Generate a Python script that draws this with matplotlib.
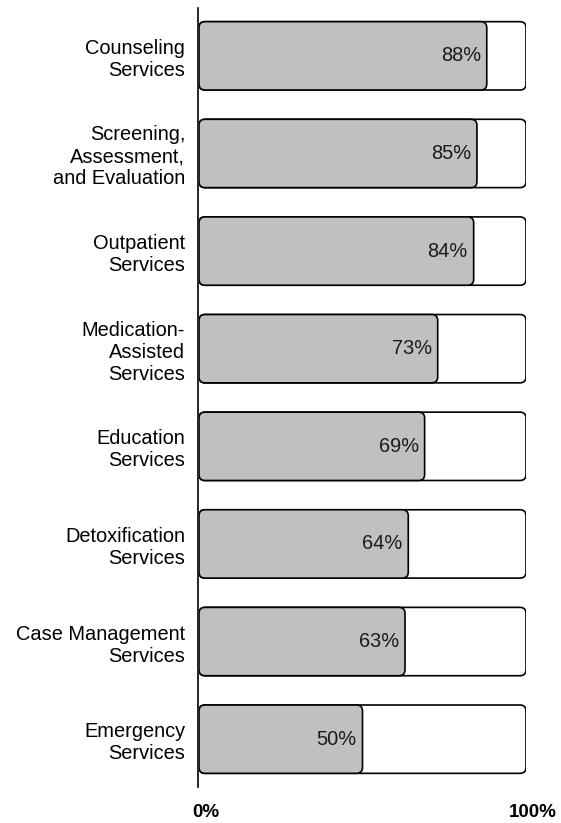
import matplotlib.pyplot as plt
from matplotlib.patches import FancyBboxPatch
from matplotlib.transforms import ScaledTranslation

plt.rcParams['font.family'] = ['Liberation Sans', 'DejaVu Sans']

categories = ["Counseling\nServices",
              "Screening,\nAssessment,\nand Evaluation",
              "Outpatient\nServices",
              "Medication-\nAssisted\nServices",
              "Education\nServices",
              "Detoxification\nServices",
              "Case Management\nServices",
              "Emergency\nServices"]
values = [88, 85, 84, 73, 69, 64, 63, 50]
full = 100

W, H = 561, 823
fig = plt.figure(figsize=(W / 100, H / 100), dpi=100)
ax = fig.add_axes([199 / W, 1 - 787 / H, (526 - 199) / W, (787 - 8) / H])
ax.set_xlim(0, full)
ax.set_ylim(len(categories) - 0.51, -0.49)

# pixels per data unit, for round corners that look circular
px_x = (526 - 199) / full
px_y = (787 - 8) / (len(categories) - 0.51 + 0.49)
rad_px = 6
r = rad_px / px_x
aspect = (rad_px / px_y) / r

bar_h = 0.70
for i, (cat, v) in enumerate(zip(categories, values)):
    y0 = i - bar_h / 2
    bg = FancyBboxPatch((0, y0), full, bar_h,
                        boxstyle=f"round,pad=0,rounding_size={r}",
                        mutation_aspect=aspect, facecolor="white",
                        edgecolor="black", linewidth=1.2, zorder=2)
    ax.add_patch(bg)
    fg = FancyBboxPatch((0, y0), v, bar_h,
                        boxstyle=f"round,pad=0,rounding_size={r}",
                        mutation_aspect=aspect, facecolor="#c0c0c0",
                        edgecolor="black", linewidth=1.2, zorder=3)
    ax.add_patch(fg)
    ax.text(v - 1.8, i, f"{v}%", ha="right", va="center",
            fontsize=14.4, color="#1a1a1a", zorder=4)

ax.set_yticks(range(len(categories)))
ax.set_yticklabels(categories, linespacing=1.12)
ax.tick_params(axis="y", length=0, pad=9, labelsize=14.4)

ax.set_xticks([0, full])
ax.set_xticklabels(["0%", "100%"], fontweight="bold")
ax.tick_params(axis="x", length=0, pad=12, labelsize=13.5)
for lab in ax.get_xticklabels():
    lab.set_transform(lab.get_transform() + ScaledTranslation(7 / 100, 0, fig.dpi_scale_trans))

for s in ["top", "right", "bottom"]:
    ax.spines[s].set_visible(False)
ax.spines["left"].set_linewidth(1.2)
ax.spines["left"].set_position(("outward", 1))

fig.savefig("out.png", dpi=100)
